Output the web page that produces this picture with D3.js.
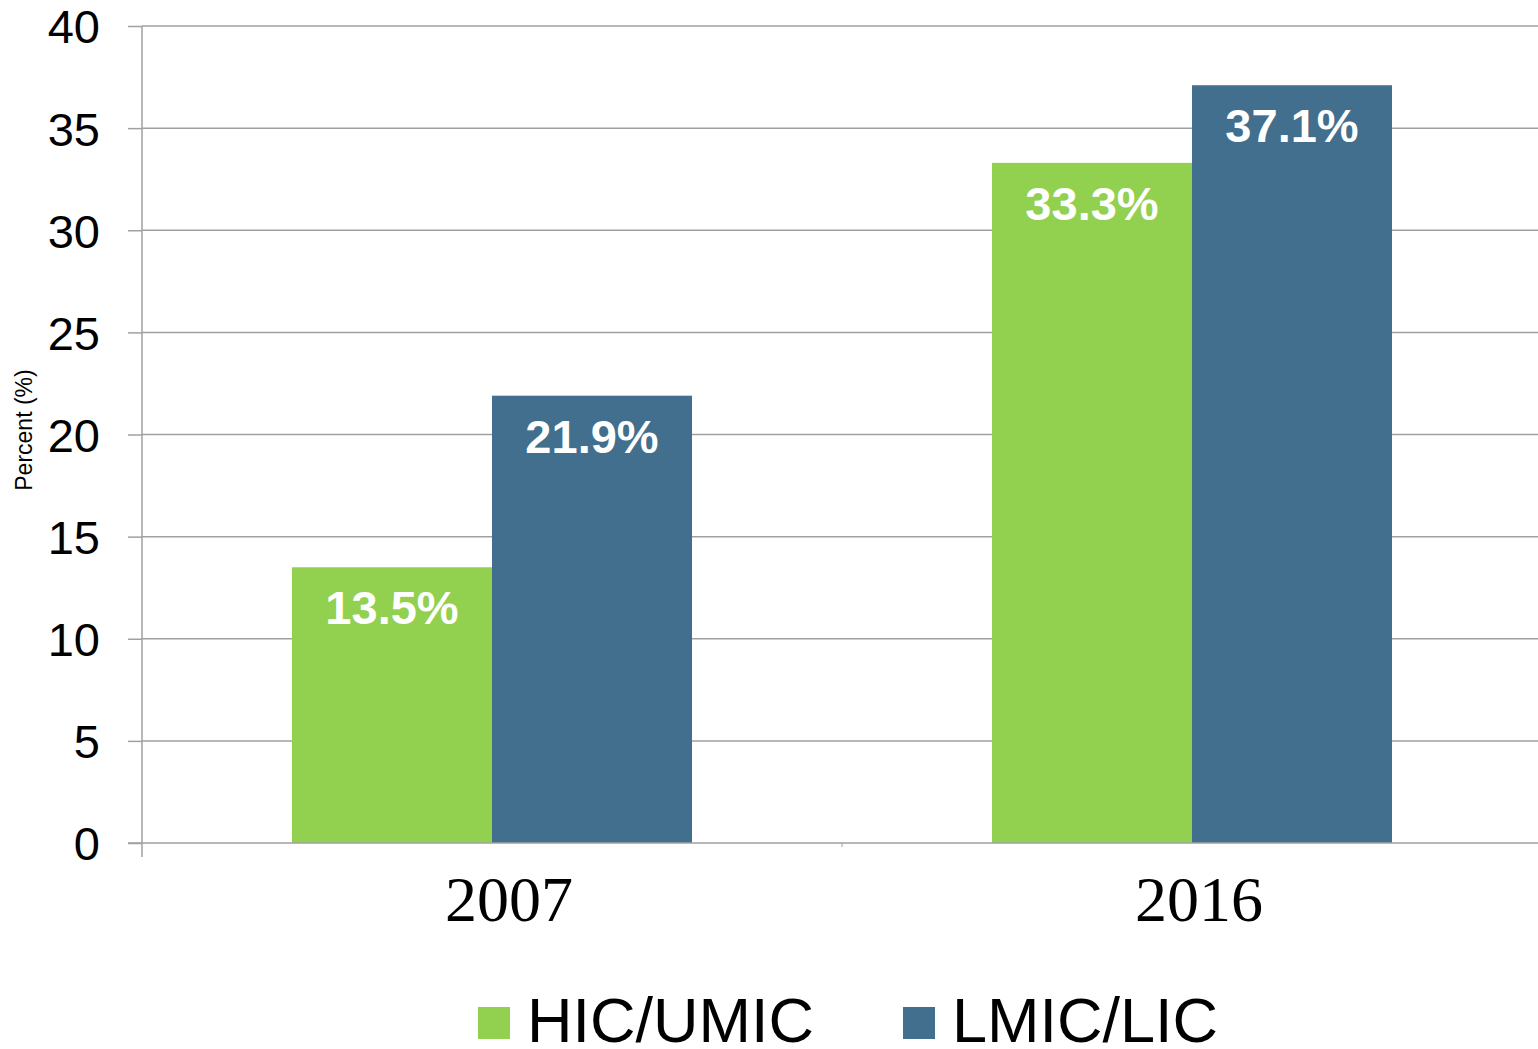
<!DOCTYPE html>
<html>
<head>
<meta charset="utf-8">
<script src="https://cdn.jsdelivr.net/npm/d3@7"></script>
<style>
  body { margin: 0; background: #fff; }
  svg { display: block; }
</style>
</head>
<body>
<div id="app"></div>
<script>
// chart data
const years = ["2007", "2016"];
const seriesNames = ["HIC/UMIC", "LMIC/LIC"];
const hicUmic = [13.5, 33.3];
const lmicLic = [21.9, 37.1];
const yTicks = [0, 5, 10, 15, 20, 25, 30, 35, 40];

const W = 1538, H = 1049;
const m = { t: 26, r: 0, b: 206, l: 142 };
const colors = ["#92d050", "#416f8d"];
const yearNudge = [17, 7]; // small horizontal shift of category labels

const svg = d3.select("#app").append("svg")
    .attr("width", W)
    .attr("height", H);

const y = d3.scaleLinear()
    .domain([0, 40])
    .range([H - m.b, m.t]);

const x0 = d3.scaleBand()
    .domain(years)
    .range([m.l, m.l + 1400]);

const bw = x0.bandwidth();
const x1 = d3.scaleBand()
    .domain(seriesNames)
    .range([bw * 150 / 700, bw * 550 / 700]);

// tick labels
const yAxis = svg.append("g")
    .attr("transform", "translate(" + m.l + ",0)")
    .call(d3.axisLeft(y).tickValues(yTicks).tickSize(14).tickPadding(28));
yAxis.select(".domain").remove();
yAxis.selectAll("line").attr("stroke", "#a0a0a0").attr("stroke-width", 1.5);
yAxis.selectAll("text")
    .style("font-family", "Liberation Sans, Arial, sans-serif")
    .style("font-size", "47px")
    .attr("fill", "#000")
    .attr("dy", "0.36em");

// gridlines
svg.append("g")
    .selectAll("line")
    .data(yTicks.filter(d => d > 0))
    .join("line")
    .attr("x1", m.l).attr("x2", W)
    .attr("y1", d => y(d)).attr("y2", d => y(d))
    .attr("stroke", "#a0a0a0")
    .attr("stroke-width", 1.5);

const rows = years.map((yr, i) => ({
    year: yr,
    vals: [
        { s: seriesNames[0], v: hicUmic[i], c: colors[0] },
        { s: seriesNames[1], v: lmicLic[i], c: colors[1] }
    ]
}));

const groups = svg.append("g")
    .selectAll("g")
    .data(rows)
    .join("g")
    .attr("transform", d => "translate(" + x0(d.year) + ",0)");

groups.selectAll("rect")
    .data(d => d.vals)
    .join("rect")
    .attr("x", d => x1(d.s))
    .attr("y", d => y(d.v))
    .attr("width", x1.bandwidth())
    .attr("height", d => y(0) - y(d.v))
    .attr("fill", d => d.c);

groups.selectAll("text.lbl")
    .data(d => d.vals)
    .join("text")
    .attr("class", "lbl")
    .attr("x", d => x1(d.s) + x1.bandwidth() / 2)
    .attr("y", d => y(d.v) + 57)
    .attr("text-anchor", "middle")
    .attr("fill", "#fff")
    .style("font-family", "Liberation Sans, Arial, sans-serif")
    .style("font-weight", "bold")
    .style("font-size", "47px")
    .text(d => d.v.toFixed(1) + "%");

// x axis
const xAxis = svg.append("g")
    .attr("transform", "translate(0," + y(0) + ")");
xAxis.append("line")
    .attr("x1", m.l - 14).attr("x2", W)
    .attr("stroke", "#a0a0a0").attr("stroke-width", 1.5);
xAxis.selectAll("line.tk")
    .data([m.l + bw])
    .join("line")
    .attr("class", "tk")
    .attr("x1", d => d).attr("x2", d => d)
    .attr("y1", 0).attr("y2", 4)
    .attr("stroke", "#a0a0a0");
xAxis.selectAll("text")
    .data(years)
    .join("text")
    .attr("x", (d, i) => x0(d) + bw / 2 + yearNudge[i])
    .attr("y", 78)
    .attr("text-anchor", "middle")
    .style("font-family", "Liberation Serif, Times New Roman, serif")
    .style("font-size", "64px")
    .text(d => d);

// vertical axis line
svg.append("line")
    .attr("x1", m.l).attr("x2", m.l)
    .attr("y1", m.t).attr("y2", y(0) + 14)
    .attr("stroke", "#a0a0a0").attr("stroke-width", 1.5);

// y title
svg.append("text")
    .attr("transform", "translate(32,430) rotate(-90)")
    .attr("text-anchor", "middle")
    .style("font-family", "Liberation Sans, Arial, sans-serif")
    .style("font-size", "23px")
    .text("Percent (%)");

// legend
const legendX = [478, 903];
const li = svg.append("g")
    .selectAll("g")
    .data(seriesNames)
    .join("g")
    .attr("transform", (d, i) => "translate(" + legendX[i] + ",1007)");
li.append("rect")
    .attr("width", 32).attr("height", 32)
    .attr("fill", (d, i) => colors[i]);
li.append("text")
    .attr("x", 49)
    .attr("y", 35)
    .style("font-family", "Liberation Sans, Arial, sans-serif")
    .style("font-size", "63px")
    .text(d => d);
</script>
</body>
</html>
